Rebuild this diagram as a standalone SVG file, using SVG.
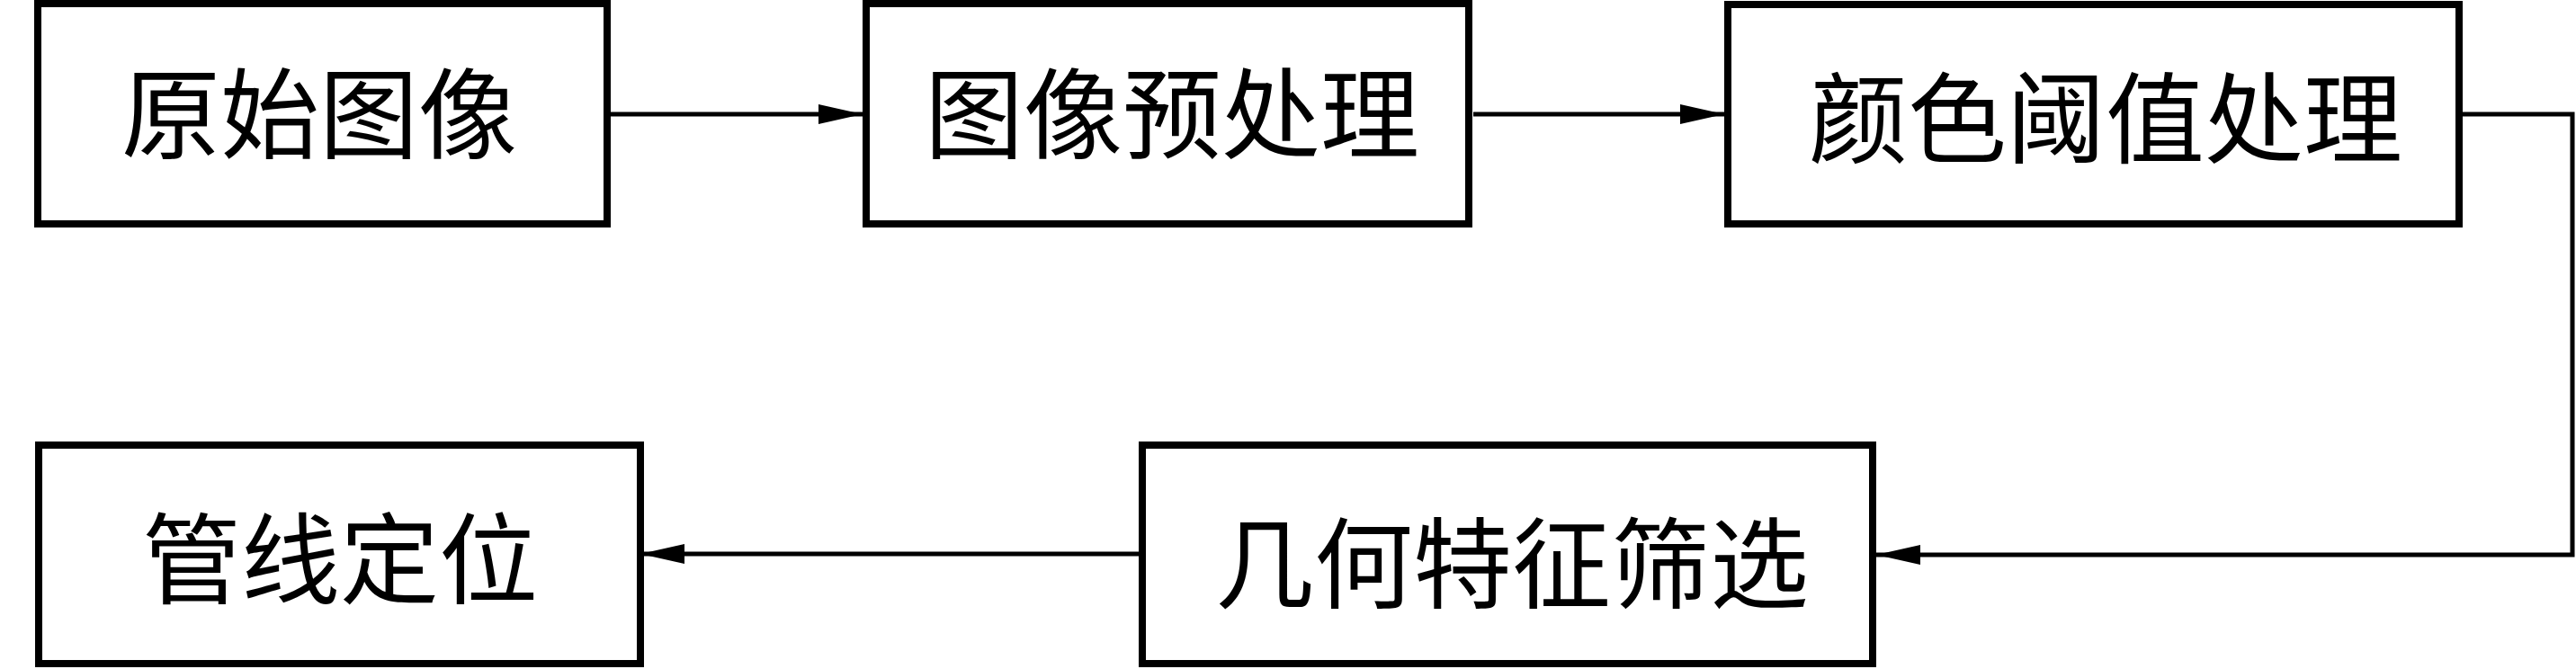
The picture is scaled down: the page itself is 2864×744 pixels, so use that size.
<svg xmlns="http://www.w3.org/2000/svg" width="2864" height="744" viewBox="0 0 2864 744">
<style>
.box{fill:#fff;stroke:#000;stroke-width:8}
.lbl{font-family:"Noto Sans CJK SC","Noto Sans CJK JP",sans-serif;font-size:110px;fill:#000;text-anchor:middle;dominant-baseline:central}
.con{fill:none;stroke:#000;stroke-width:5;marker-end:url(#ah)}
</style>
<defs>
<marker id="ah" markerUnits="userSpaceOnUse" markerWidth="50" markerHeight="22" refX="49" refY="11" orient="auto">
<path d="M0,0 L49,11 L0,22 Z" fill="#000"/>
</marker>
</defs>
<rect width="2864" height="744" fill="#fff"/>
<g id="connectors">
<path class="con" d="M679,127 H959"/>
<path class="con" d="M1638,127 H1917"/>
<path class="con" d="M2738,127 H2860 V617 H2086"/>
<path class="con" d="M1266,616 H712"/>
</g>
<g id="n1"><rect class="box" x="42" y="4" width="633" height="245"/><text class="lbl" x="355" y="120">原始图像</text></g>
<g id="n2"><rect class="box" x="963" y="4" width="670" height="245"/><text class="lbl" x="1303" y="120">图像预处理</text></g>
<g id="n3"><rect class="box" x="1921" y="5" width="813" height="244"/><text class="lbl" x="2341" y="125">颜色阈值处理</text></g>
<g id="n4"><rect class="box" x="43" y="495" width="669" height="243"/><text class="lbl" x="378" y="615">管线定位</text></g>
<g id="n5"><rect class="box" x="1270" y="495" width="812" height="243"/><text class="lbl" x="1681" y="620">几何特征筛选</text></g>
</svg>
